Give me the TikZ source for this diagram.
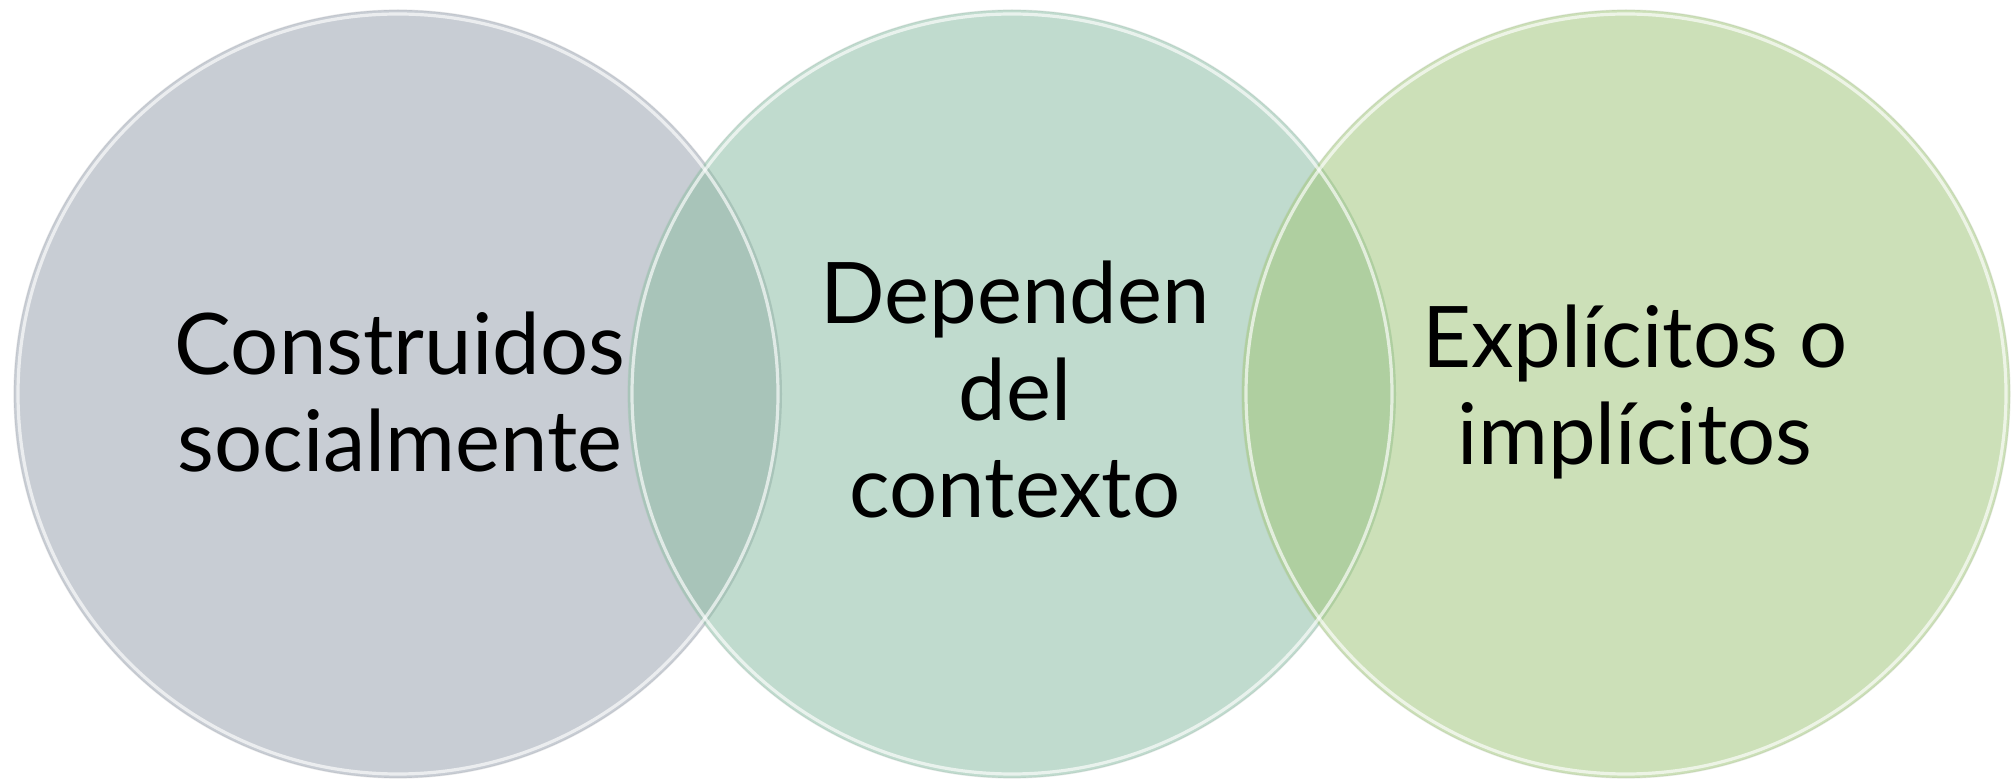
\documentclass[tikz,border=0pt]{standalone}
\usepackage{fontspec}
\setmainfont{Lato}
\definecolor{cone}{RGB}{200,205,212}
\definecolor{ctwo}{RGB}{192,219,206}
\definecolor{cthree}{RGB}{204,224,184}
\definecolor{ovone}{RGB}{168,196,185}
\definecolor{ovtwo}{RGB}{175,207,160}
\tikzset{
  disc/.style={circle, minimum size=384pt, inner sep=0pt, outer sep=0pt},
  rim/.style={circle, minimum size=380pt, inner sep=0pt, draw=white, draw opacity=0.65, line width=1.6pt},
  label/.style={align=center, font=\fontsize{42.5}{48.5}\selectfont, text=black, inner sep=0pt}
}
\begin{document}
\begin{tikzpicture}[x=0.5pt,y=-0.5pt]
\useasboundingbox (0,0) rectangle (2015,780);
\coordinate (p1) at (398,394);
\coordinate (p2) at (1012,394);
\coordinate (p3) at (1626,394);
\node[disc, fill=cone, draw=cone!85!black, draw opacity=0.3, line width=0.6pt] (a) at (p1) {};
\node[disc, fill=ctwo, draw=ctwo!85!black, draw opacity=0.3, line width=0.6pt] (b) at (p2) {};
\node[disc, fill=cthree, draw=cthree!85!black, draw opacity=0.3, line width=0.6pt] (c) at (p3) {};
\begin{scope}
  \clip (p1) circle[radius=384];
  \fill[ovone] (p2) circle[radius=384];
\end{scope}
\begin{scope}
  \clip (p2) circle[radius=384];
  \fill[ovtwo] (p3) circle[radius=384];
\end{scope}
\node[rim] (ra) at (p1) {};
\node[rim] (rb) at (p2) {};
\node[rim] (rc) at (p3) {};
\node[label] (ta) at (400,392) {Construidos\\socialmente};
\node[label] (tb) at (1015,390) {Dependen\\del\\contexto};
\node[label] (tc) at (1635,392) {Explícitos o\\implícitos};
\end{tikzpicture}
\end{document}
